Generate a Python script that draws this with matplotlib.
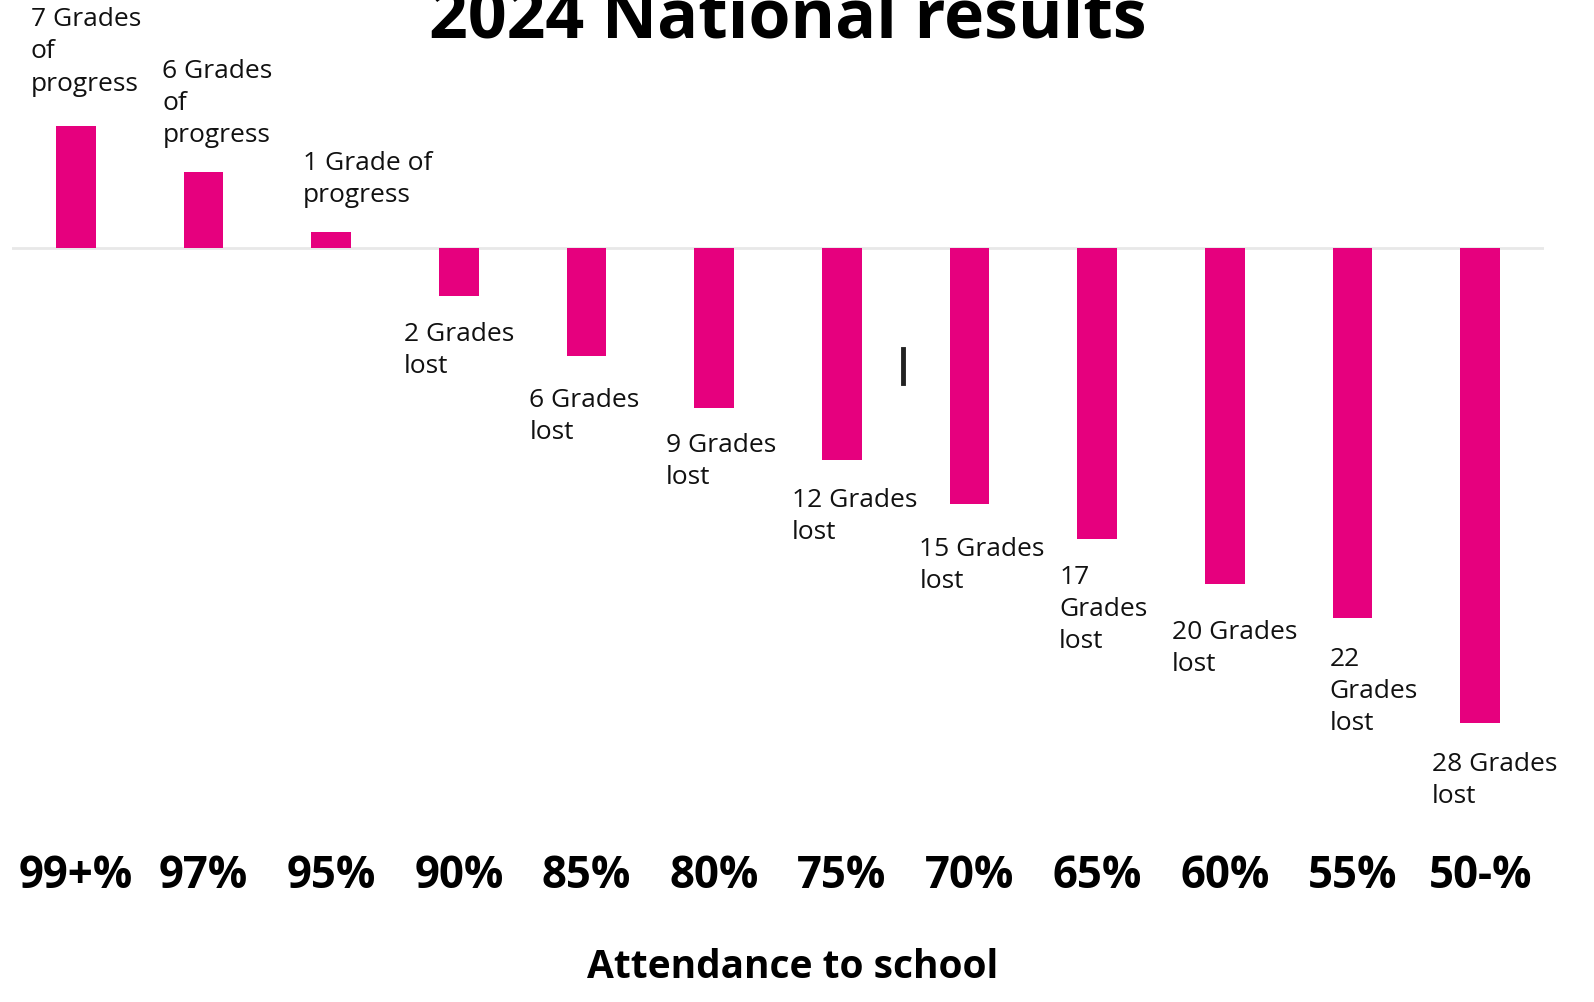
import matplotlib
matplotlib.use('Agg')
from matplotlib import pyplot as plt
from matplotlib.lines import Line2D

# 数据：出勤率与成绩变化（柱高按图中像素读取，单位约为“等级”）
attendance = ['99+%', '97%', '95%', '90%', '85%', '80%',
              '75%', '70%', '65%', '60%', '55%', '50-%']
grades = [7.2, 4.5, 0.95, -2.8, -6.35, -9.4,
          -12.45, -15.05, -17.1, -19.75, -21.75, -27.95]
labels = ['7 Grades\nof\nprogress', '6 Grades\nof\nprogress', '1 Grade of\nprogress',
          '2 Grades\nlost', '6 Grades\nlost', '9 Grades\nlost',
          '12 Grades\nlost', '15 Grades\nlost', '17\nGrades\nlost',
          '20 Grades\nlost', '22\nGrades\nlost', '28 Grades\nlost']

# 标签位置微调（像素）
dx = [-45, -41, -28, -55, -57, -48, -50, -50, -38, -53, -23, -48]
gap = [30, 24, 25, 25, 31, 24, 27, 32, 25, 35, 28, 28]

pink = '#e6007e'
font = 'Open Sans'

fig = plt.figure(figsize=(15.94, 10.03), dpi=100)
ax = fig.add_axes([12 / 1594, 1 - 830 / 1003, 1532 / 1594, 830 / 1003])

x = list(range(len(attendance)))
ax.bar(x, grades, width=0.31, color=pink, zorder=3)
ax.axhline(0, color='#e8e8e8', lw=2, zorder=1)

for i, (v, t) in enumerate(zip(grades, labels)):
	if v >= 0:
		ax.annotate(t, (i, v), xytext=(dx[i], gap[i]), textcoords='offset pixels',
					ha='left', va='bottom', fontsize=19, family=font,
					color='#111111', linespacing=1.38)
	else:
		ax.annotate(t, (i, v), xytext=(dx[i], -gap[i]), textcoords='offset pixels',
					ha='left', va='top', fontsize=19, family=font,
					color='#111111', linespacing=1.38)

ax.set_xlim(-0.5, 11.5)
ax.set_ylim(-830 / 17 + 249 / 17, 249 / 17)
ax.set_xticks(x)
ax.set_xticklabels(attendance, fontsize=31.5, fontweight='bold', family=font)
ax.tick_params(axis='x', length=0, pad=17)
ax.set_yticks([])
for s in ax.spines.values():
	s.set_visible(False)

fig.text(0.494, 1 - 38 / 1003, '2024 National results', ha='center', va='baseline',
		 fontsize=49, fontweight='bold', family=font)
fig.text(0.4975, 1 - 968 / 1003, 'Attendance to school', ha='center', va='center',
		 fontsize=28, fontweight='bold', family=font)

# 图中的一个小竖线
fig.add_artist(Line2D([903 / 1594, 903 / 1594], [1 - 350 / 1003, 1 - 384 / 1003],
					  color='#222222', lw=3.5))

fig.savefig('out.png', dpi=100)
